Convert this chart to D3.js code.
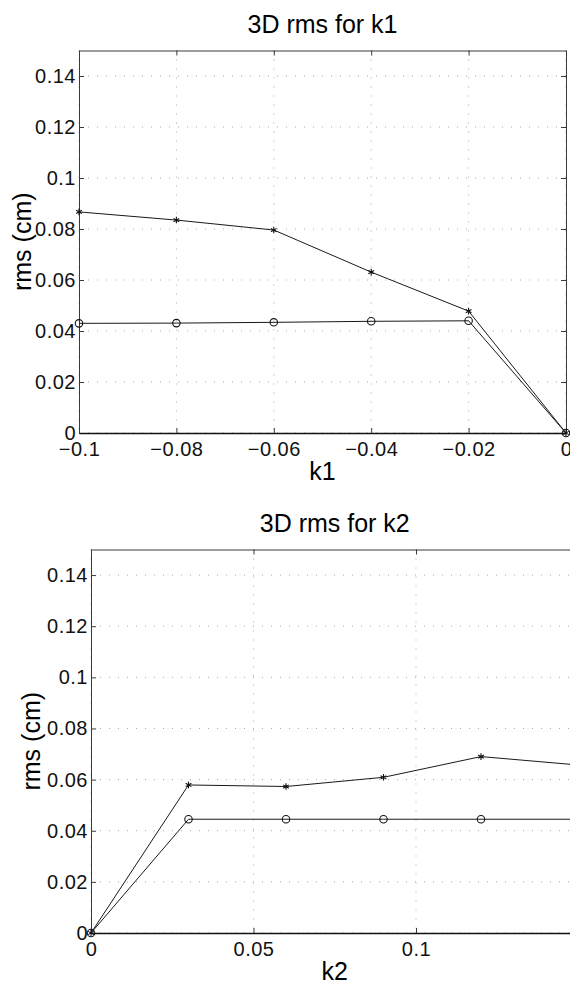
<!DOCTYPE html>
<html>
  <head>
    <meta charset="UTF-8" />
    <title>3D rms</title>
    <script src="https://d3js.org/d3.v7.min.js"></script>
    <style>
      body {
        margin: 0;
        background: #fff;
      }
      svg {
        display: block;
        font-family: "Liberation Sans", Arial, sans-serif;
      }
      .axis path,
      .axis line {
        stroke: #3a3a3a;
      }
      .axis.bottom path {
        stroke: #111;
        stroke-width: 1.6;
      }
      .axis text {
        fill: #111;
        font-size: 20px;
        letter-spacing: 0.5px;
      }
      .grid line {
        stroke: #aaa;
        stroke-dasharray: 1, 8;
      }
    </style>
  </head>
  <body>
    <svg width="570" height="983"></svg>
    <script>
      // values
      var yTicks = [0, 0.02, 0.04, 0.06, 0.08, 0.1, 0.12, 0.14];

      var k1Values = [-0.1, -0.08, -0.06, -0.04, -0.02, 0];
      var k1Star = [0.0867, 0.0835, 0.0796, 0.0631, 0.0478, 0];
      var k1Circle = [0.043, 0.0431, 0.0434, 0.0438, 0.044, 0];
      var k1Ticks = [-0.1, -0.08, -0.06, -0.04, -0.02, 0];

      var k2Values = [0, 0.03, 0.06, 0.09, 0.12, 0.15];
      var k2Star = [0, 0.0579, 0.0573, 0.0609, 0.069, 0.0657];
      var k2Circle = [0, 0.0445, 0.0445, 0.0445, 0.0445, 0.0445];
      var k2Ticks = [0, 0.05, 0.1];

      var svg = d3.select("svg");
      var fmt = d3.format(".2~f");

      var panels = [
        {
          title: "3D rms for k1",
          xlabel: "k1",
          xs: k1Values,
          star: k1Star,
          circle: k1Circle,
          xTicks: k1Ticks,
          xDomain: [-0.1, 0],
          left: 79,
          right: 566,
          top: 50.5,
          bottom: 433,
          ylabelX: 31,
        },
        {
          title: "3D rms for k2",
          xlabel: "k2",
          xs: k2Values,
          star: k2Star,
          circle: k2Circle,
          xTicks: k2Ticks,
          xDomain: [0, 0.15],
          left: 91,
          right: 578.5,
          top: 549.5,
          bottom: 933,
          ylabelX: 40,
        },
      ];

      function clean(sel) {
        // let the css decide the font of tick labels
        sel.attr("font-size", null).attr("font-family", null);
      }

      panels.forEach(function (p) {
        var x = d3.scaleLinear().domain(p.xDomain).range([p.left, p.right]);
        var y = d3.scaleLinear().domain([0, 0.15]).range([p.bottom, p.top]);
        var g = svg.append("g");

        // dotted grid
        var grid = g.append("g").attr("class", "grid");
        grid
          .selectAll("line.v")
          .data(p.xTicks)
          .enter()
          .append("line")
          .attr("x1", function (d) {
            return x(d);
          })
          .attr("x2", function (d) {
            return x(d);
          })
          .attr("y1", p.top)
          .attr("y2", p.bottom);
        grid
          .selectAll("line.h")
          .data(yTicks)
          .enter()
          .append("line")
          .attr("x1", p.left)
          .attr("x2", p.right)
          .attr("y1", function (d) {
            return y(d);
          })
          .attr("y2", function (d) {
            return y(d);
          });

        // box with inward ticks on all sides
        g.append("g")
          .attr("class", "axis")
          .attr("transform", "translate(0," + p.top + ")")
          .call(
            d3
              .axisTop(x)
              .tickValues(p.xTicks)
              .tickFormat("")
              .tickSizeInner(-5)
              .tickSizeOuter(0)
          );
        g.append("g")
          .attr("class", "axis")
          .attr("transform", "translate(" + p.right + ",0)")
          .call(
            d3
              .axisRight(y)
              .tickValues(yTicks)
              .tickFormat("")
              .tickSizeInner(-5)
              .tickSizeOuter(0)
          );
        g.append("g")
          .attr("class", "axis")
          .attr("transform", "translate(" + p.left + ",0)")
          .call(
            d3
              .axisLeft(y)
              .tickValues(yTicks)
              .tickFormat(fmt)
              .tickSizeInner(-5)
              .tickSizeOuter(0)
              .tickPadding(3)
          )
          .call(clean);
        g.append("g")
          .attr("class", "axis bottom")
          .attr("transform", "translate(0," + p.bottom + ")")
          .call(
            d3
              .axisBottom(x)
              .tickValues(p.xTicks)
              .tickFormat(fmt)
              .tickSizeInner(-5)
              .tickSizeOuter(0)
              .tickPadding(9)
          )
          .call(clean);

        // data lines
        var line = d3
          .line()
          .x(function (d) {
            return x(d[0]);
          })
          .y(function (d) {
            return y(d[1]);
          });
        [
          { vals: p.star, sym: d3.symbolAsterisk, size: 30 },
          { vals: p.circle, sym: d3.symbolCircle, size: 44 },
        ].forEach(function (s) {
          var pts = p.xs.map(function (v, i) {
            return [v, s.vals[i]];
          });
          g.append("path")
            .datum(pts)
            .attr("d", line)
            .attr("fill", "none")
            .attr("stroke", "#1a1a1a")
            .attr("stroke-width", 1);
          g.selectAll(null)
            .data(pts)
            .enter()
            .append("path")
            .attr("transform", function (d) {
              return "translate(" + x(d[0]) + "," + y(d[1]) + ")";
            })
            .attr("d", d3.symbol().type(s.sym).size(s.size))
            .attr("fill", "none")
            .attr("stroke", "#111")
            .attr("stroke-width", 1.1);
        });

        // labels
        var cx = (p.left + p.right) / 2;
        g.append("text")
          .attr("x", cx)
          .attr("y", p.top - 18)
          .attr("text-anchor", "middle")
          .attr("font-size", 25)
          .text(p.title);
        g.append("text")
          .attr("x", cx)
          .attr("y", p.bottom + 47)
          .attr("text-anchor", "middle")
          .attr("font-size", 25)
          .text(p.xlabel);
        g.append("text")
          .attr(
            "transform",
            "translate(" + p.ylabelX + "," + (p.top + p.bottom) / 2 + ") rotate(-90)"
          )
          .attr("text-anchor", "middle")
          .attr("font-size", 25)
          .text("rms (cm)");
      });
    </script>
  </body>
</html>
